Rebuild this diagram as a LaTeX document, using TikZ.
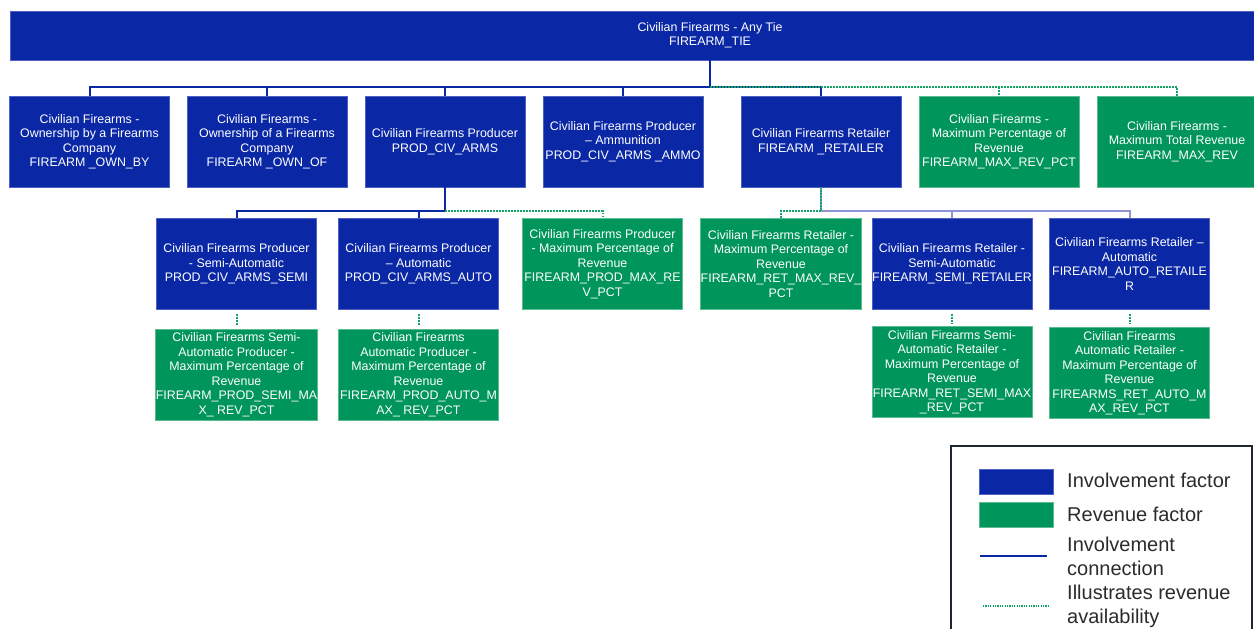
\documentclass[tikz,border=0pt]{standalone}
\usepackage{fontspec}
\setmainfont{Liberation Sans}
\usepackage{xcolor}
\usepackage{tikz}
\usetikzlibrary{calc}
\definecolor{invBlue}{HTML}{0A27A6}
\definecolor{invEdge}{HTML}{4F60C2}
\definecolor{revGreen}{HTML}{00955B}
\definecolor{revEdge}{HTML}{5DBB92}
\definecolor{softBlue}{HTML}{8E94D4}
\definecolor{dotGreen}{HTML}{12A565}
\definecolor{legendInk}{HTML}{2B2B2B}
\definecolor{frameInk}{HTML}{1E2631}
\tikzset{
  invBox/.style={fill=invBlue, draw=invEdge, line width=0.8pt, minimum width=160pt, minimum height=91pt,
    inner sep=0pt, text=white, align=center, font=\fontsize{12.4}{14.5}\selectfont},
  revBox/.style={invBox, fill=revGreen, draw=revEdge},
  boxText/.style={text=white, align=center, inner sep=0pt, font=\fontsize{12.4}{14.5}\selectfont},
  invLine/.style={draw=invBlue, line width=2pt},
  softLine/.style={draw=softBlue, line width=2pt},
  revLine/.style={draw=dotGreen, line width=2pt, dash pattern=on 1.6pt off 1.4pt},
  legendKey/.style={draw=invEdge, fill=invBlue, minimum width=74pt, minimum height=25pt, inner sep=0pt},
  legendText/.style={text=legendInk, anchor=west, align=left, inner sep=0pt, font=\fontsize{20}{24}\selectfont},
  legendFrame/.style={draw=frameInk, line width=2pt}
}

\begin{document}
\begin{tikzpicture}[x=1pt,y=-1pt]
  \useasboundingbox (0,0) rectangle (1254,629);

  \node[invBox, minimum width=1244pt, minimum height=49pt] (tie) at (632,35.5) {};
  \node[boxText] (tieText) at (710,35) {Civilian Firearms - Any Tie\\FIREARM\_TIE};

  \node[invBox] (ownBy) at (89.5,141.5) {Civilian Firearms -\\Ownership by a Firearms\\Company\\FIREARM \_OWN\_BY};
  \node[invBox] (ownOf) at (267,141.5) {Civilian Firearms -\\Ownership of a Firearms\\Company\\FIREARM \_OWN\_OF};
  \node[invBox] (prodCiv) at (445,141.5) {Civilian Firearms Producer\\PROD\_CIV\_ARMS};
  \node[invBox] (prodAmmo) at (623,141.5) {Civilian Firearms Producer\\-- Ammunition\\PROD\_CIV\_ARMS \_AMMO};
  \node[invBox] (retailer) at (821,141.5) {Civilian Firearms Retailer\\FIREARM \_RETAILER};
  \node[revBox] (maxRevPct) at (999,141.5) {Civilian Firearms -\\Maximum Percentage of\\Revenue\\FIREARM\_MAX\_REV\_PCT};
  \node[revBox] (maxRev) at (1177,141.5) {Civilian Firearms -\\Maximum Total Revenue\\FIREARM\_MAX\_REV};

  \node[invBox] (prodSemi) at (236.5,264) {Civilian Firearms Producer\\- Semi-Automatic\\PROD\_CIV\_ARMS\_SEMI};
  \node[invBox] (prodAuto) at (418.5,264) {Civilian Firearms Producer\\-- Automatic\\PROD\_CIV\_ARMS\_AUTO};
  \node[revBox] (prodMaxRev) at (602.5,264) {Civilian Firearms Producer\\- Maximum Percentage of\\Revenue\\FIREARM\_PROD\_MAX\_RE\\V\_PCT};
  \node[revBox] (retMaxRev) at (781,264) {Civilian Firearms Retailer -\\Maximum Percentage of\\Revenue\\FIREARM\_RET\_MAX\_REV\_\\PCT};
  \node[invBox] (retSemi) at (952,264) {Civilian Firearms Retailer -\\Semi-Automatic\\FIREARM\_SEMI\_RETAILER};
  \node[invBox] (retAuto) at (1129.5,264) {Civilian Firearms Retailer --\\Automatic\\FIREARM\_AUTO\_RETAILE\\R};

  \node[revBox] (prodSemiRev) at (236.5,374.5) {Civilian Firearms Semi-\\Automatic Producer -\\Maximum Percentage of\\Revenue\\FIREARM\_PROD\_SEMI\_MA\\X\_ REV\_PCT};
  \node[revBox] (prodAutoRev) at (418.5,374.5) {Civilian Firearms\\Automatic Producer -\\Maximum Percentage of\\Revenue\\FIREARM\_PROD\_AUTO\_M\\AX\_ REV\_PCT};
  \node[revBox] (retSemiRev) at (952,372) {Civilian Firearms Semi-\\Automatic Retailer -\\Maximum Percentage of\\Revenue\\FIREARM\_RET\_SEMI\_MAX\\\_REV\_PCT};
  \node[revBox] (retAutoRev) at (1129.5,373) {Civilian Firearms\\Automatic Retailer -\\Maximum Percentage of\\Revenue\\FIREARMS\_RET\_AUTO\_M\\AX\_REV\_PCT};

  \coordinate (topBus) at (710,87);
  \coordinate (prodBus) at (445,211);
  \coordinate (retBus) at (821,211);

  \draw[invLine] (tieText |- tie.south) -- (topBus);
  \draw[invLine] (ownBy.north) -- (ownBy.north |- topBus) -- (retailer.north |- topBus) -- (retailer.north);
  \foreach \n in {ownOf,prodCiv,prodAmmo}
    \draw[invLine] (\n.north |- topBus) -- (\n.north);
  \draw[revLine] (topBus) -- (maxRev.north |- topBus) -- (maxRev.north);
  \draw[revLine] (maxRevPct.north |- topBus) -- (maxRevPct.north);

  \draw[invLine] (prodCiv.south) -- (prodBus) -- (prodBus -| prodSemi.north) -- (prodSemi.north);
  \draw[invLine] (prodBus -| prodAuto.north) -- (prodAuto.north);
  \draw[revLine] (prodBus) -- (prodBus -| prodMaxRev.north) -- (prodMaxRev.north);

  \draw[softLine] (retailer.south) -- (retBus) -- (retBus -| retAuto.north) -- (retAuto.north);
  \draw[softLine] (retBus -| retSemi.north) -- (retSemi.north);
  \draw[revLine] (retailer.south) -- (retBus) -- (retBus -| retMaxRev.north) -- (retMaxRev.north);

  \foreach \a/\b in {prodSemi/prodSemiRev,prodAuto/prodAutoRev,retSemi/retSemiRev,retAuto/retAutoRev}
    \draw[revLine, shorten <=4pt, shorten >=3pt] (\a.south) -- (\b.north);

  \coordinate (legBL) at (951,629);
  \coordinate (legTL) at (951,446);
  \coordinate (legTR) at (1252,446);
  \coordinate (legBR) at (1252,629);
  \draw[legendFrame] (legBL) -- (legTL) -- (legTR) -- (legBR);

  \node[legendKey] (legInvKey) at (1016,481.5) {};
  \node[legendKey, fill=revGreen, draw=revEdge] (legRevKey) at (1016,514.5) {};
  \coordinate (legInvA) at (980,556);
  \coordinate (legInvB) at (1047,556);
  \coordinate (legRevA) at (983,606);
  \coordinate (legRevB) at (1050,606);
  \draw[invLine, line width=1.6pt] (legInvA) -- (legInvB);
  \draw[revLine, line width=1.4pt, dash pattern=on 1.2pt off 1.2pt] (legRevA) -- (legRevB);

  \node[legendText] (legInvText) at (1067,480) {Involvement factor};
  \node[legendText] (legRevText) at (1067,514) {Revenue factor};
  \node[legendText] (legConnText) at (1067,556) {Involvement\\connection};
  \node[legendText] (legAvailText) at (1067,606) {Illustrates revenue\\availability};
\end{tikzpicture}
\end{document}
